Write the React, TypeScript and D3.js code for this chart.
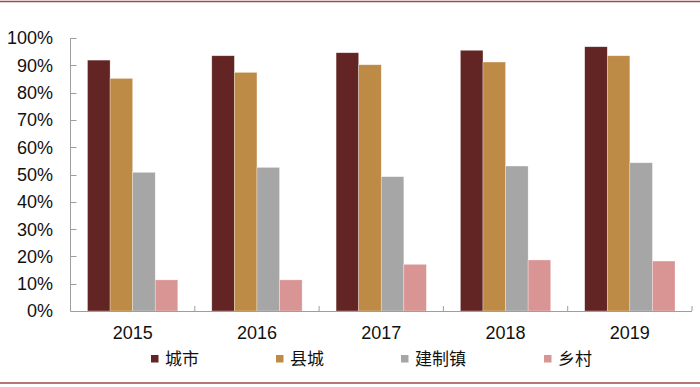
import * as d3 from 'd3'

// data
const years = ['2015', '2016', '2017', '2018', '2019']
const seriesNames = ['城市', '县城', '建制镇', '乡村']
const cityValues = [0.919, 0.935, 0.946, 0.955, 0.968]
const countyValues = [0.852, 0.874, 0.902, 0.912, 0.935]
const townValues = [0.508, 0.526, 0.492, 0.531, 0.543]
const villageValues = [0.114, 0.114, 0.171, 0.187, 0.183]
const yTicks = [0, 0.1, 0.2, 0.3, 0.4, 0.5, 0.6, 0.7, 0.8, 0.9, 1]

const colors = ['#632523', '#BE8B47', '#A6A6A6', '#D99594']
const seriesValues = [cityValues, countyValues, townValues, villageValues]

const W = 700
const H = 387
const left = 70.5
const right = 692
const top = 38
const bottom = 311

export default function App() {
  const x0 = d3.scaleBand<string>().domain(years).range([left, right])
  const bw = x0.bandwidth()
  const groupPad = 17
  const x1 = d3
    .scaleBand<string>()
    .domain(seriesNames)
    .range([groupPad, bw - groupPad])
  const y = d3.scaleLinear().domain([0, 1]).range([bottom, top])

  const boundaries = years.map((yr) => x0(yr) as number).concat([right])

  // legend positions (label x)
  const legendX = [151, 276, 401, 544]

  return (
    <div style={{ position: 'absolute', left: 0, top: 0 }}>
      <svg width={W} height={H} style={{ display: 'block', background: '#fff' }}>
        <line x1={0} x2={W} y1={1.5} y2={1.5} stroke="#A0484B" strokeWidth={1.5} />
        <line x1={0} x2={W} y1={383} y2={383} stroke="#A0484B" strokeWidth={1.5} />

        {/* bars */}
        {seriesNames.map((s, si) =>
          years.map((yr, i) => {
            const v = seriesValues[si][i]
            return (
              <rect
                key={s + yr}
                x={(x0(yr) as number) + (x1(s) as number)}
                y={y(v)}
                width={x1.bandwidth()}
                height={bottom - y(v)}
                fill={colors[si]}
                stroke="rgba(255,255,255,0.5)"
                strokeWidth={0.6}
              />
            )
          })
        )}

        {/* y axis */}
        <line x1={left} x2={left} y1={top} y2={bottom} stroke="#9E9E9E" strokeWidth={1} />
        {yTicks.map((t) => (
          <g key={t}>
            <line x1={left} x2={left + 6} y1={Math.round(y(t)) + 0.5} y2={Math.round(y(t)) + 0.5} stroke="#9E9E9E" strokeWidth={1} />
            <text
              x={53}
              y={y(t)}
              dy="0.36em"
              textAnchor="end"
              fontFamily="'Liberation Sans', Arial, sans-serif"
              fontSize={18}
              fill="#111"
            >
              {d3.format('.0%')(t)}
            </text>
          </g>
        ))}

        {/* x axis */}
        <line x1={left} x2={right} y1={bottom + 0.5} y2={bottom + 0.5} stroke="#9E9E9E" strokeWidth={1.2} />
        {boundaries.map((b, i) => (
          <line key={i} x1={b} x2={b} y1={bottom - 5} y2={bottom} stroke="#9E9E9E" strokeWidth={1} />
        ))}
        {years.map((yr) => (
          <text
            key={yr}
            x={(x0(yr) as number) + bw / 2}
            y={339}
            textAnchor="middle"
            fontFamily="'Liberation Sans', Arial, sans-serif"
            fontSize={18}
            fill="#111"
          >
            {yr}
          </text>
        ))}

        {/* legend */}
        {seriesNames.map((s, i) => (
          <g key={s}>
            <rect x={legendX[i]} y={355} width={7.5} height={7.5} fill={colors[i]} />
            <text
              x={legendX[i] + 14}
              y={359}
              dy="0.36em"
              fontFamily="'Noto Sans CJK SC', sans-serif"
              fontSize={17}
              fill="#111"
            >
              {s}
            </text>
          </g>
        ))}
      </svg>
    </div>
  )
}
